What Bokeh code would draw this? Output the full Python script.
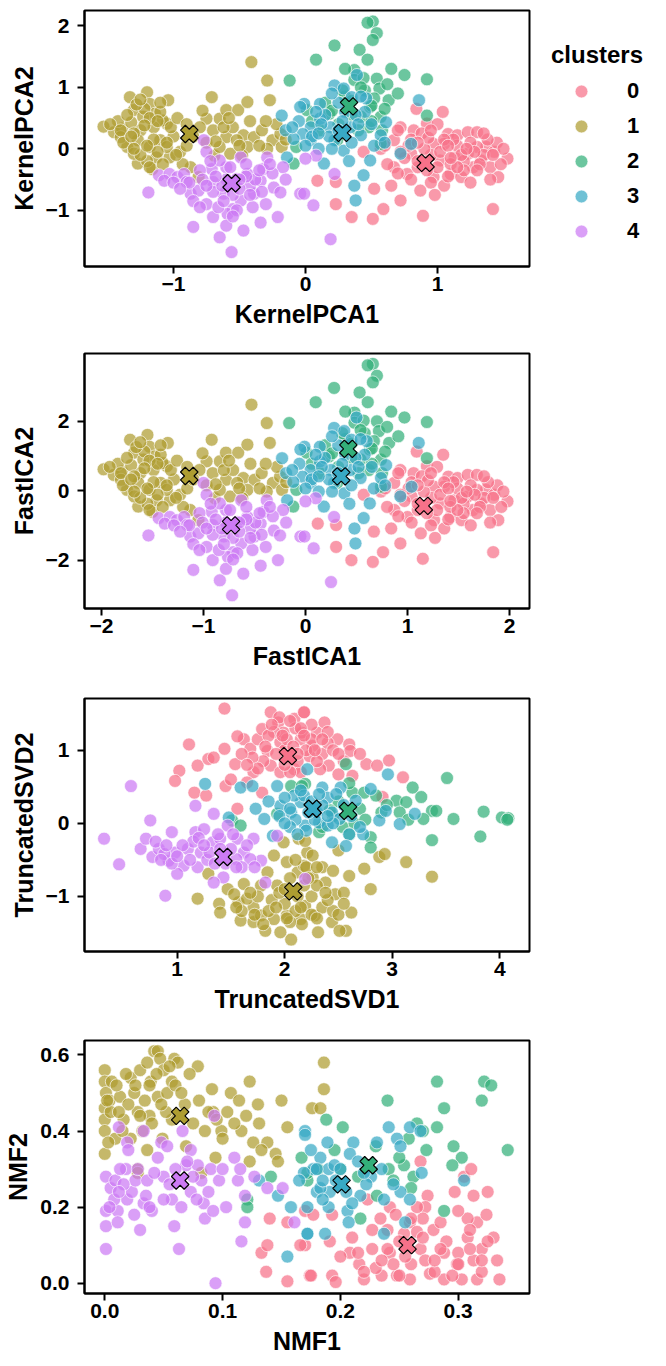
import numpy as np
from bokeh.plotting import figure
from bokeh.layouts import column, row
from bokeh.models import FixedTicker, Legend, LegendItem, Range1d
from bokeh.embed import file_html
from bokeh.resources import INLINE

FONT = "Liberation Sans"
CLUSTERS = ["0", "1", "2", "3", "4"]
COLORS = ["#f77189", "#ae9d31", "#33b07a", "#38a9c5", "#cc7af4"]

# ---------------- KernelPCA ----------------
kpca_x0 = [0.84,1.04,0.72,0.82,0.92,1.08,1.15,1.23,1.30,1.37,1.43,1.53,1.30,1.23,1.13,1.05,0.97,0.67,0.57,0.44,0.67,0.77,0.87,0.97,1.10,1.27,1.46,1.18,0.72,0.59,0.51,0.35,0.89,1.42,0.09,0.23,0.23,0.52,0.80,1.02,1.33,0.85,1.0,1.1,0.95,1.2,1.25,1.4,1.35,0.9,0.75,1.15,0.8,0.95,1.05,1.2,1.45,0.65,0.7,0.6,1.0,0.88,
           0.78,0.85,0.93,1.02,1.08,1.12,1.18,1.28,1.32,1.38,1.5,1.4,0.8,0.62,0.98,1.25,0.7,1.48,
           0.85,0.95,1.05,1.15,1.3,1.42,1.22,1.08,0.92,1.35,1.1,0.72]
kpca_y0 = [0.65,0.60,0.35,0.30,0.41,0.24,0.22,0.27,0.27,0.03,-0.05,-0.16,0.03,-0.08,-0.14,0.08,0.08,0.14,0.00,-0.05,-0.30,-0.41,-0.68,-0.46,-0.41,-0.30,-0.46,-0.46,-0.84,-0.98,-1.14,-1.11,-1.09,-0.98,-0.52,-0.54,-0.90,-0.65,-0.08,-0.19,-0.19,-0.30,-0.3,-0.25,-0.1,-0.2,0.1,-0.3,-0.1,0.0,-0.15,0.05,0.15,-0.55,-0.6,-0.35,0.1,-0.6,-0.4,0.05,0.4,0.25,
           0.05,-0.2,0.18,-0.05,-0.45,0.15,-0.1,-0.05,-0.25,0.15,0.0,-0.5,-0.5,-0.25,-0.75,-0.55,0.3,-0.25,
           0.1,0.3,0.15,-0.3,-0.35,-0.1,0.0,0.05,-0.35,0.25,-0.15,-0.05]
kpca_x1 = [-1.53,-1.45,-1.39,-1.33,-1.30,-1.20,-1.18,-1.14,-1.04,-1.05,-1.25,-1.27,-1.35,-1.18,-1.10,-1.27,-1.16,-1.03,-0.95,-0.87,-1.32,-1.23,-1.08,-1.40,-1.30,-1.13,-1.05,-0.71,-0.65,-0.60,-0.51,-0.44,-0.41,-0.29,-0.27,-0.75,-0.70,-0.60,-0.55,-0.47,-0.39,-0.33,-0.25,-0.19,-0.18,-0.29,-0.44,-0.52,-0.69,-0.57,-0.48,-0.81,-0.80,-0.65,-1.22,-1.15,-1.0,-1.3,-1.12,-1.2,-0.9,-0.85,-0.75,-0.62,-0.35,-0.22,-0.42,-0.93,
           -1.42,-1.38,-1.28,-1.25,-1.18,-1.15,-1.1,-1.08,-1.02,-0.98,-1.2,-1.35,-0.78,-0.68,-0.58,-0.5,-0.3,-0.15,
           -1.48,-1.4,-1.32,-1.22,-1.12,-1.05,-1.3,-1.18,-1.25,-1.1,-0.97,-0.9]
kpca_y1 = [0.36,0.27,0.33,0.84,0.63,0.92,0.73,0.57,0.79,0.41,0.30,0.14,0.03,0.03,0.14,-0.24,-0.33,-0.14,-0.05,-0.30,0.43,0.52,0.46,0.19,-0.08,-0.14,0.03,0.84,0.49,0.63,0.63,0.76,1.41,1.11,0.79,0.49,0.30,0.19,0.35,0.22,0.19,0.30,0.14,0.24,0.03,0.00,0.03,0.14,-0.11,-0.08,-0.11,-0.46,0.35,0.03,0.65,0.35,0.2,0.25,-0.05,-0.2,0.05,0.2,0.1,0.35,0.05,0.4,0.45,-0.25,
           0.45,0.1,0.72,-0.1,0.5,0.15,0.6,-0.25,0.35,-0.1,0.05,0.55,0.62,0.12,0.5,0.05,0.45,0.15,
           0.4,0.3,0.2,0.38,0.45,0.1,0.0,-0.3,0.8,0.75,0.5,0.4]
kpca_x2 = [0.51,0.47,0.54,0.51,0.22,0.08,0.41,0.47,0.65,0.75,0.92,0.37,0.54,0.56,0.63,0.49,0.42,0.57,0.18,0.11,0.01,0.24,0.48,0.92,0.57,0.37,-0.12,-0.09,-0.07,0.3,0.45,0.35,0.25,0.6,0.15,0.05,0.4,0.52,0.7,
           0.28,0.44,0.62,0.35,0.5,0.2,0.58,0.3,0.42,0.5]
kpca_y2 = [2.07,2.05,1.88,1.77,1.68,1.45,1.61,1.45,1.30,1.20,1.13,1.28,1.14,0.98,0.79,0.68,0.52,0.52,0.57,0.30,0.63,0.14,0.35,0.54,0.08,1.12,1.11,-0.24,0.03,0.85,0.95,0.55,0.4,0.65,0.75,0.45,0.3,0.82,0.9,
           0.95,1.15,1.05,0.78,0.45,0.62,0.3,1.3,1.0,0.7]
kpca_x3 = [0.22,0.29,0.39,0.35,0.46,0.11,-0.01,0.04,0.11,0.19,0.34,0.42,0.57,0.61,0.29,0.14,0.44,0.37,0.38,0.86,0.80,0.72,0.49,0.04,0.22,-0.18,-0.15,-0.14,-0.04,-0.02,-0.09,0.15,0.3,0.05,0.2,0.35,0.5,0.1,0.25,0.45,-0.05,
           0.08,0.18,0.28,0.38,0.52,0.0,0.12,0.33,0.6,0.42,0.2,-0.1,0.25,0.1,0.4]
kpca_y3 = [1.03,0.98,1.20,0.84,0.82,0.73,0.73,0.35,0.49,0.35,0.35,0.22,0.22,0.43,-0.03,-0.24,-0.43,-0.60,-0.84,0.79,0.08,-0.08,-0.19,0.14,0.14,0.54,0.30,-0.14,0.68,0.24,0.16,0.55,0.6,0.2,0.0,0.1,0.4,0.0,0.75,0.6,0.45,
           0.6,0.2,0.45,0.55,0.05,0.05,0.4,-0.2,0.1,0.85,0.9,0.35,0.3,0.25,0.4]
kpca_x4 = [-1.19,-1.11,-1.03,-0.97,-0.92,-0.87,-0.85,-0.77,-0.75,-0.70,-0.75,-0.70,-0.65,-0.60,-0.62,-0.56,-0.55,-0.49,-0.47,-0.44,-0.39,-0.34,-0.32,-0.29,-0.24,-0.21,-0.19,-0.04,-0.81,-0.90,-0.71,-0.52,-0.42,-0.34,-0.59,-1.07,-0.65,-0.49,-0.17,-0.01,0.06,0.08,0.22,0.19,0.00,-0.8,-0.6,-0.45,-0.38,-0.7,-0.55,-0.3,-1.0,-0.66,-0.25,
           -0.88,-0.78,-0.72,-0.63,-0.57,-0.5,-0.45,-0.4,-0.33,-0.27,-0.6,-0.52,-0.85,-0.95,-0.15,
           -0.75,-0.68,-0.5,-0.42,-0.62,-0.35,-0.8,-0.55]
kpca_y4 = [-0.71,-0.43,-0.41,-0.46,-0.41,-0.73,-1.27,0.14,-0.05,-0.54,-0.90,-1.11,-1.44,-0.30,-0.73,-1.68,-0.98,-0.14,-1.33,-0.41,-0.73,-1.20,-0.33,-0.14,-0.63,-1.11,-0.71,-0.73,-0.68,-0.54,-0.33,-0.49,-0.60,-0.52,-1.06,-0.52,-0.19,-0.84,-0.30,-0.73,-0.92,-0.11,-0.41,-1.47,-0.16,-0.35,-0.5,-0.25,-0.5,-0.7,-0.75,-0.9,-0.55,-0.95,-0.4,
           -0.55,-0.5,-0.2,-0.6,-0.3,-0.65,-0.45,-0.95,-0.7,-0.25,-1.25,-1.0,-0.85,-0.65,-0.5,
           -0.6,-0.45,-0.5,-0.75,-0.85,-0.35,-0.95,-1.1]
kpca_cx = [0.91, -0.88, 0.33, 0.28, -0.56]
kpca_cy = [-0.23, 0.24, 0.69, 0.26, -0.56]

# ---------------- FastICA ----------------
fica_x0 = [1.09,1.35,0.93,1.06,1.19,1.40,1.49,1.59,1.68,1.77,1.85,1.98,1.68,1.59,1.46,1.36,1.26,0.87,0.74,0.57,0.87,1.00,1.13,1.26,1.42,1.64,1.89,1.53,0.93,0.76,0.66,0.45,1.15,1.84,0.12,0.30,0.30,0.67,1.04,1.32,1.72,1.10,1.29,1.42,1.23,1.55,1.62,1.81,1.75,1.16,0.97,1.49,1.04,1.23,1.36,1.55,1.88,0.84,0.91,0.78,1.29,1.14,
           1.01,1.10,1.20,1.32,1.40,1.45,1.53,1.66,1.71,1.79,1.94,1.81,1.04,0.80,1.27,1.62,0.91,1.92,
           1.10,1.23,1.36,1.49,1.68,1.84,1.58,1.40,1.19,1.75,1.42,0.93]
fica_y0 = [1.13,1.04,0.60,0.51,0.71,0.41,0.37,0.46,0.46,0.03,-0.11,-0.30,0.03,-0.16,-0.27,0.12,0.12,0.23,-0.02,-0.11,-0.55,-0.75,-1.22,-0.84,-0.75,-0.55,-0.84,-0.84,-1.51,-1.76,-2.04,-1.99,-1.95,-1.76,-0.94,-0.98,-1.61,-1.17,-0.16,-0.36,-0.36,-0.55,-0.55,-0.46,-0.20,-0.37,0.16,-0.55,-0.20,-0.02,-0.29,0.07,0.25,-0.99,-1.08,-0.64,0.16,-1.08,-0.73,0.07,0.69,0.42,
           0.07,-0.37,0.30,-0.11,-0.82,0.25,-0.20,-0.11,-0.46,0.25,-0.02,-0.91,-0.91,-0.46,-1.35,-0.99,0.51,-0.46,
           0.16,0.51,0.25,-0.55,-0.64,-0.20,-0.02,0.07,-0.64,0.42,-0.29,-0.11]
fica_x1 = [-1.98,-1.88,-1.80,-1.72,-1.68,-1.55,-1.53,-1.48,-1.35,-1.36,-1.62,-1.64,-1.75,-1.53,-1.42,-1.64,-1.50,-1.33,-1.23,-1.13,-1.71,-1.59,-1.40,-1.81,-1.68,-1.46,-1.36,-0.92,-0.84,-0.78,-0.66,-0.57,-0.53,-0.38,-0.35,-0.97,-0.91,-0.78,-0.71,-0.61,-0.50,-0.43,-0.32,-0.25,-0.23,-0.38,-0.57,-0.67,-0.89,-0.74,-0.62,-1.05,-1.04,-0.84,-1.58,-1.49,-1.29,-1.68,-1.45,-1.55,-1.16,-1.10,-0.97,-0.80,-0.45,-0.28,-0.54,-1.20,
           -1.84,-1.79,-1.66,-1.62,-1.53,-1.49,-1.42,-1.40,-1.32,-1.27,-1.55,-1.75,-1.01,-0.88,-0.75,-0.65,-0.39,-0.19,
           -1.92,-1.81,-1.71,-1.58,-1.45,-1.36,-1.68,-1.53,-1.62,-1.42,-1.26,-1.16]
fica_y1 = [0.62,0.46,0.56,1.47,1.10,1.61,1.27,0.99,1.38,0.71,0.51,0.23,0.03,0.03,0.23,-0.45,-0.60,-0.27,-0.11,-0.55,0.74,0.90,0.80,0.32,-0.16,-0.27,0.03,1.47,0.85,1.10,1.10,1.33,2.48,1.95,1.38,0.85,0.51,0.32,0.60,0.37,0.32,0.51,0.23,0.41,0.03,-0.02,0.03,0.23,-0.21,-0.16,-0.21,-0.84,0.60,0.03,1.13,0.60,0.33,0.42,-0.11,-0.37,0.07,0.33,0.16,0.60,0.07,0.69,0.78,-0.46,
           0.78,0.16,1.26,-0.20,0.87,0.25,1.04,-0.46,0.60,-0.20,0.07,0.95,1.08,0.19,0.87,0.07,0.78,0.25,
           0.69,0.51,0.33,0.65,0.78,0.16,-0.02,-0.55,1.40,1.31,0.87,0.69]
fica_x2 = [0.66,0.61,0.70,0.66,0.28,0.10,0.53,0.61,0.84,0.97,1.19,0.48,0.70,0.72,0.82,0.63,0.54,0.74,0.23,0.14,0.01,0.31,0.62,1.19,0.74,0.48,-0.16,-0.12,-0.09,0.39,0.58,0.45,0.32,0.78,0.19,0.06,0.52,0.67,0.91,
           0.36,0.57,0.80,0.45,0.65,0.26,0.75,0.39,0.54,0.65]
fica_y2 = [3.65,3.61,3.31,3.12,2.96,2.55,2.83,2.55,2.28,2.11,1.98,2.25,2.00,1.72,1.38,1.19,0.90,0.90,0.99,0.51,1.10,0.23,0.60,0.94,0.12,1.96,1.95,-0.45,0.03,1.49,1.66,0.95,0.69,1.13,1.31,0.78,0.51,1.43,1.57,
           1.66,2.02,1.84,1.36,0.78,1.08,0.51,2.28,1.75,1.22]
fica_x3 = [0.28,0.38,0.50,0.45,0.60,0.14,-0.01,0.05,0.14,0.25,0.44,0.54,0.74,0.79,0.38,0.18,0.57,0.48,0.49,1.11,1.04,0.93,0.63,0.05,0.28,-0.23,-0.19,-0.18,-0.05,-0.03,-0.12,0.19,0.39,0.06,0.26,0.45,0.65,0.13,0.32,0.58,-0.06,
           0.10,0.23,0.36,0.49,0.67,0.0,0.16,0.43,0.78,0.54,0.26,-0.13,0.32,0.13,0.52]
fica_y3 = [1.81,1.72,2.11,1.47,1.43,1.27,1.27,0.60,0.85,0.60,0.60,0.37,0.37,0.74,-0.07,-0.45,-0.78,-1.08,-1.51,1.38,0.12,-0.16,-0.36,0.23,0.23,0.94,0.51,-0.27,1.19,0.41,0.26,0.95,1.04,0.33,-0.02,0.16,0.69,-0.02,1.31,1.04,0.78,
           1.04,0.33,0.78,0.95,0.07,0.07,0.69,-0.37,0.16,1.49,1.57,0.60,0.51,0.42,0.69]
fica_x4 = [-1.54,-1.44,-1.33,-1.26,-1.19,-1.13,-1.10,-1.00,-0.97,-0.91,-0.97,-0.91,-0.84,-0.78,-0.80,-0.72,-0.71,-0.63,-0.61,-0.57,-0.50,-0.44,-0.41,-0.38,-0.31,-0.27,-0.25,-0.05,-1.05,-1.16,-0.92,-0.67,-0.54,-0.44,-0.76,-1.38,-0.84,-0.63,-0.22,-0.01,0.08,0.10,0.28,0.25,0.00,-1.04,-0.78,-0.58,-0.49,-0.91,-0.71,-0.39,-1.29,-0.85,-0.32,
           -1.14,-1.01,-0.93,-0.82,-0.74,-0.65,-0.58,-0.52,-0.43,-0.35,-0.78,-0.67,-1.10,-1.23,-0.19,
           -0.97,-0.88,-0.65,-0.54,-0.80,-0.45,-1.04,-0.71]
fica_y4 = [-1.28,-0.78,-0.75,-0.84,-0.75,-1.31,-2.27,0.23,-0.11,-0.98,-1.61,-1.99,-2.57,-0.55,-1.31,-3.00,-1.76,-0.27,-2.38,-0.75,-1.31,-2.15,-0.60,-0.27,-1.14,-1.99,-1.28,-1.31,-1.22,-0.98,-0.60,-0.89,-1.08,-0.94,-1.90,-0.94,-0.36,-1.51,-0.55,-1.31,-1.65,-0.21,-0.75,-2.62,-0.30,-0.64,-0.91,-0.46,-0.91,-1.26,-1.35,-1.61,-0.99,-1.70,-0.73,
           -0.99,-0.91,-0.37,-1.08,-0.55,-1.17,-0.82,-1.70,-1.26,-0.46,-2.24,-1.79,-1.53,-1.17,-0.91,
           -1.08,-0.82,-0.91,-1.35,-1.53,-0.64,-1.70,-1.97]
fica_cx = [1.16, -1.14, 0.42, 0.35, -0.73]
fica_cy = [-0.43, 0.43, 1.21, 0.42, -0.99]

# ---------------- TruncatedSVD ----------------
tsvd_x0 = [1.44,1.11,1.02,0.98,1.19,1.29,1.34,1.44,1.16,1.27,1.45,1.54,1.62,1.68,1.75,1.79,1.87,1.94,2.09,2.18,1.84,1.96,1.87,1.71,1.96,2.09,1.79,1.56,1.65,2.15,1.56,1.99,2.18,2.37,2.49,2.60,2.61,2.26,2.16,2.30,2.23,2.41,2.50,2.63,2.76,2.86,2.97,3.10,2.91,2.33,2.15,1.9,2.0,2.1,2.2,2.25,1.8,2.05,1.7,2.35,1.95,2.12,2.4,
           1.85,1.92,2.02,2.08,2.15,2.25,2.3,2.45,2.55,1.75,1.6,2.0,2.4,2.7,1.5,
           1.88,1.98,2.05,2.18,2.28,2.12,1.82,2.35,1.65,2.5]
tsvd_y0 = [1.57,1.08,0.72,0.58,0.79,0.88,0.90,1.02,0.42,0.38,0.51,0.81,1.15,1.02,1.15,1.29,1.52,1.38,1.43,1.52,0.99,1.11,0.79,0.70,0.70,0.74,0.42,0.20,0.56,1.15,1.19,1.24,1.52,1.38,1.15,1.08,0.99,1.06,1.24,1.24,0.92,0.79,0.67,0.65,0.81,0.79,0.86,0.63,0.36,0.74,0.70,1.25,1.0,1.3,1.0,1.35,0.85,0.7,0.9,0.95,1.45,0.85,1.1,
           1.2,0.95,1.15,1.05,1.3,1.15,0.85,1.0,0.85,0.75,0.95,0.8,1.25,0.95,0.6,
           1.35,1.2,1.4,1.2,1.0,0.95,1.05,1.15,0.8,0.95]
tsvd_x1 = [1.19,1.29,1.39,1.40,1.47,1.57,1.59,1.71,1.71,1.78,1.82,1.90,1.96,2.06,2.02,2.15,2.13,2.21,2.02,2.12,1.84,1.93,1.78,1.62,1.53,1.65,1.99,1.90,2.19,2.26,2.18,2.35,2.50,2.74,2.88,2.93,3.13,3.37,2.80,2.60,2.47,2.38,2.26,2.19,2.28,2.44,2.57,2.62,2.31,2.16,2.51,2.0,2.1,2.25,2.35,1.88,2.05,2.3,1.75,2.2,2.45,
           1.85,1.95,2.05,2.12,2.18,2.25,2.4,2.5,2.55,1.68,1.8,2.3,2.1,1.6,2.45,
           1.92,2.02,2.15,2.3,2.38,1.72,2.0,2.22,2.55,1.55]
tsvd_y1 = [-1.03,-0.69,-1.10,-1.22,-0.90,-1.08,-1.33,-1.15,-1.35,-1.26,-1.47,-1.31,-1.49,-1.59,-1.26,-1.31,-0.21,-0.40,-0.53,-0.67,-0.67,-0.85,-0.85,-0.83,-0.97,-1.03,-0.26,-0.44,-0.24,-0.44,-0.58,-0.60,-0.37,-0.62,-0.46,-0.42,-0.53,-0.73,-0.90,-0.72,-0.97,-0.81,-0.74,-1.13,-1.26,-1.35,-1.47,-1.22,-1.49,-1.38,-1.47,-1.1,-1.2,-1.0,-1.15,-1.05,-0.75,-0.85,-1.0,-0.6,-1.2,
           -1.2,-0.95,-1.35,-1.0,-0.85,-1.25,-1.05,-1.25,-0.95,-0.95,-1.38,-0.6,-0.5,-1.2,-0.65,
           -1.15,-1.3,-1.15,-1.3,-0.95,-1.25,-0.9,-0.75,-1.1,-1.15]
tsvd_x2 = [2.57,2.63,2.74,2.85,3.04,3.13,3.19,3.27,3.37,3.41,3.57,3.51,3.85,3.82,3.37,4.02,4.08,4.07,2.80,2.80,2.32,2.54,3.29,3.07,2.19,1.51,1.59,2.06,1.93,2.16,2.45,2.65,2.7,2.9,2.35,2.6,
           2.5,2.75,2.95,3.15,2.6,2.42]
tsvd_y2 = [0.81,0.42,0.42,0.38,0.31,0.29,0.49,0.36,0.17,0.17,0.06,0.62,0.16,-0.18,-0.23,0.08,0.07,0.05,-0.19,-0.33,-0.12,-0.05,0.06,0.15,0.54,0.04,-0.03,0.51,0.13,0.51,0.1,0.0,0.2,0.15,-0.05,0.55,
           0.3,0.05,0.25,0.05,-0.15,0.18]
tsvd_x3 = [1.26,1.48,1.59,1.70,1.73,1.81,1.93,1.96,2.06,2.15,2.21,1.89,2.09,2.18,2.35,2.52,2.44,2.32,2.19,2.60,2.44,2.57,2.73,2.80,2.88,2.94,3.07,3.21,2.96,2.66,2.40,2.51,2.0,2.1,2.25,2.3,2.4,2.2,1.85,2.05,2.55,
           2.05,2.15,2.28,2.35,2.45,2.62,2.12,1.95,2.48,2.7,2.22,2.32,2.4,2.0]
tsvd_y3 = [0.54,0.08,0.49,0.51,0.20,0.06,0.51,0.24,0.15,0.29,0.74,-0.17,0.38,0.38,0.49,0.49,0.15,0.01,-0.03,-0.15,-0.26,-0.31,-0.15,0.47,0.04,0.17,-0.01,0.13,0.67,0.31,-0.03,0.06,0.35,0.05,0.3,0.15,0.35,-0.1,0.3,-0.05,0.25,
           0.2,0.45,0.05,0.25,0.0,0.1,-0.15,0.1,0.4,-0.05,0.15,0.4,0.1,0.0]
tsvd_x4 = [0.32,0.46,0.57,0.66,0.71,0.75,0.77,0.83,0.89,0.92,0.98,0.95,1.06,1.00,1.17,1.17,1.25,1.34,1.22,1.33,1.40,1.47,1.56,1.62,1.71,1.78,1.68,1.43,1.34,1.82,1.93,1.55,1.19,0.88,2.19,1.1,1.28,1.5,1.6,1.15,0.85,1.38,
           1.05,1.2,1.3,1.45,1.52,1.65,0.8,0.95,1.4,1.72,1.0,1.12,1.25,1.35,0.9,1.55]
tsvd_y4 = [-0.21,-0.56,0.51,-0.35,-0.21,0.04,-0.46,-0.35,-0.99,-0.51,-0.40,-0.12,-0.58,-0.69,-0.12,0.24,-0.08,0.13,-0.40,-0.26,-0.21,-0.03,-0.21,-0.40,-0.21,-0.51,-0.49,-0.74,-0.81,-0.81,-0.17,-0.49,-0.60,-0.42,-0.76,-0.35,-0.5,-0.35,-0.6,-0.25,-0.5,-0.15,
           -0.3,-0.2,-0.4,-0.55,-0.15,-0.3,-0.25,-0.55,-0.35,-0.6,-0.45,-0.5,-0.3,-0.55,-0.3,-0.6]
tsvd_cx = [2.03, 2.08, 2.59, 2.26, 1.43]
tsvd_cy = [0.92, -0.93, 0.17, 0.20, -0.46]

# ---------------- NMF ----------------
nmf_x0 = [0.133,0.138,0.140,0.137,0.155,0.155,0.170,0.170,0.174,0.175,0.193,0.196,0.220,0.235,0.248,0.259,0.276,0.288,0.303,0.316,0.335,0.208,0.216,0.227,0.227,0.242,0.245,0.268,0.272,0.288,0.299,0.313,0.320,0.333,0.308,0.316,0.324,0.330,0.308,0.297,0.305,0.311,0.313,0.325,0.274,0.268,0.242,0.247,0.259,0.272,0.270,0.279,0.254,0.234,0.193,0.177,0.166,0.191,0.223,0.26,0.28,0.30,0.25,0.29,0.32,0.23,0.265,
          0.21,0.24,0.28,0.31,0.30,0.255,0.285,0.22,0.325,0.20,0.265,0.295,
          0.24,0.25,0.27,0.285,0.30,0.31,0.32,0.215,0.26,0.235]
nmf_y0 = [0.08,0.10,0.17,0.03,0.005,0.16,0.19,0.10,0.02,0.02,0.02,0.003,0.01,0.02,0.02,0.01,0.025,0.01,0.01,0.01,0.01,0.08,0.05,0.09,0.14,0.08,0.05,0.09,0.06,0.08,0.05,0.06,0.09,0.06,0.12,0.16,0.18,0.12,0.17,0.24,0.28,0.30,0.23,0.24,0.23,0.32,0.20,0.18,0.16,0.20,0.17,0.14,0.13,0.17,0.18,0.18,0.10,0.11,0.22,0.05,0.03,0.08,0.11,0.11,0.03,0.04,0.135,
          0.12,0.14,0.06,0.14,0.19,0.07,0.16,0.03,0.11,0.07,0.20,0.02,
          0.09,0.02,0.12,0.09,0.05,0.09,0.06,0.08,0.17,0.06]
nmf_x1 = [0.000,0.000,0.001,0.000,0.000,0.000,0.000,0.006,0.004,0.009,0.013,0.016,0.022,0.022,0.025,0.028,0.030,0.032,0.028,0.036,0.039,0.042,0.045,0.047,0.045,0.038,0.036,0.050,0.053,0.057,0.059,0.062,0.049,0.057,0.069,0.079,0.085,0.091,0.094,0.092,0.099,0.104,0.107,0.114,0.116,0.120,0.123,0.126,0.130,0.131,0.138,0.133,0.145,0.150,0.155,0.147,0.123,0.082,0.028,0.186,0.186,0.176,0.183,
          0.005,0.010,0.015,0.020,0.026,0.034,0.040,0.044,0.052,0.060,0.068,0.075,0.088,0.100,0.110,
          0.002,0.003,0.012,0.018,0.030,0.038,0.048,0.055,0.065,0.072,0.080,0.095]
nmf_y1 = [0.56,0.53,0.50,0.46,0.43,0.40,0.34,0.53,0.48,0.38,0.49,0.43,0.38,0.54,0.50,0.45,0.56,0.40,0.30,0.58,0.53,0.61,0.61,0.59,0.49,0.44,0.35,0.56,0.50,0.53,0.59,0.58,0.38,0.43,0.36,0.57,0.40,0.51,0.33,0.45,0.40,0.45,0.50,0.48,0.40,0.44,0.53,0.37,0.47,0.42,0.37,0.35,0.34,0.48,0.41,0.32,0.32,0.29,0.29,0.58,0.51,0.46,0.46,
          0.45,0.52,0.40,0.47,0.52,0.48,0.42,0.55,0.45,0.52,0.47,0.42,0.45,0.38,0.42,
          0.48,0.37,0.45,0.55,0.44,0.52,0.47,0.57,0.50,0.55,0.48,0.43]
nmf_x2 = [0.188,0.202,0.240,0.282,0.288,0.282,0.265,0.258,0.273,0.296,0.303,0.295,0.322,0.328,0.320,0.342,0.241,0.245,0.262,0.254,0.172,0.181,0.200,0.217,0.288,0.231,0.121,0.121,0.167,0.172,0.141,
          0.195,0.215,0.25,0.27,0.23,0.26]
nmf_y2 = [0.43,0.41,0.48,0.53,0.46,0.41,0.42,0.38,0.35,0.36,0.33,0.31,0.53,0.52,0.48,0.35,0.30,0.27,0.28,0.31,0.27,0.30,0.30,0.17,0.19,0.23,0.22,0.20,0.33,0.29,0.28,
          0.35,0.28,0.33,0.40,0.36,0.25]
nmf_x3 = [0.170,0.189,0.211,0.231,0.241,0.259,0.268,0.248,0.251,0.208,0.183,0.177,0.190,0.169,0.180,0.191,0.217,0.226,0.237,0.251,0.259,0.269,0.305,0.172,0.206,0.207,0.187,0.172,0.237,0.255,0.183,0.196,0.170,0.155,0.172,0.131,0.147,0.158,0.165,
          0.175,0.185,0.195,0.205,0.215,0.222,0.19,0.235,0.18,0.21,0.20,0.22,0.185,0.245]
nmf_y3 = [0.40,0.37,0.37,0.37,0.41,0.41,0.40,0.38,0.36,0.34,0.33,0.30,0.30,0.29,0.24,0.24,0.23,0.28,0.22,0.24,0.22,0.29,0.27,0.20,0.19,0.16,0.13,0.13,0.13,0.16,0.25,0.27,0.39,0.07,0.13,0.27,0.23,0.20,0.27,
          0.35,0.27,0.31,0.24,0.32,0.26,0.20,0.30,0.30,0.21,0.30,0.29,0.22,0.26]
nmf_x4 = [0.001,0.001,0.001,0.001,0.005,0.009,0.012,0.011,0.011,0.018,0.019,0.023,0.026,0.030,0.033,0.036,0.040,0.045,0.048,0.050,0.053,0.057,0.059,0.063,0.066,0.069,0.073,0.073,0.079,0.082,0.084,0.085,0.090,0.093,0.097,0.094,0.103,0.110,0.113,0.115,0.119,0.116,0.119,0.127,0.138,0.151,0.161,0.019,0.033,0.013,
          0.008,0.016,0.025,0.035,0.042,0.055,0.065,0.075,0.088,0.100,0.070,0.020,
          0.004,0.012,0.028,0.038,0.050,0.060,0.078,0.092]
nmf_y4 = [0.28,0.19,0.15,0.09,0.25,0.27,0.41,0.19,0.16,0.30,0.22,0.24,0.27,0.14,0.21,0.27,0.19,0.33,0.37,0.28,0.36,0.22,0.15,0.09,0.40,0.31,0.35,0.24,0.31,0.27,0.21,0.17,0.30,0.44,0.27,0.00,0.20,0.33,0.27,0.30,0.23,0.11,0.16,0.28,0.25,0.25,0.16,0.37,0.40,0.30,
          0.22,0.26,0.18,0.23,0.29,0.26,0.20,0.28,0.24,0.30,0.32,0.35,
          0.20,0.24,0.30,0.20,0.22,0.30,0.22,0.19]
nmf_cx = [0.257, 0.064, 0.224, 0.201, 0.064]
nmf_cy = [0.10, 0.44, 0.31, 0.26, 0.27]

# tick values and labels
kpca_xticks, kpca_xlabels = [-1, 0, 1], ["\u22121", "0", "1"]
kpca_yticks, kpca_ylabels = [-1, 0, 1, 2], ["\u22121", "0", "1", "2"]
fica_xticks, fica_xlabels = [-2, -1, 0, 1, 2], ["\u22122", "\u22121", "0", "1", "2"]
fica_yticks, fica_ylabels = [-2, 0, 2], ["\u22122", "0", "2"]
tsvd_xticks, tsvd_xlabels = [1, 2, 3, 4], ["1", "2", "3", "4"]
tsvd_yticks, tsvd_ylabels = [-1, 0, 1], ["\u22121", "0", "1"]
nmf_xticks, nmf_xlabels = [0.0, 0.1, 0.2, 0.3], ["0.0", "0.1", "0.2", "0.3"]
nmf_yticks, nmf_ylabels = [0.0, 0.2, 0.4, 0.6], ["0.0", "0.2", "0.4", "0.6"]

PLOT_W = 531
LEG_W = 666 - PLOT_W


def style_axis(ax, ticks, labels, lstand, astand):
    ax.ticker = FixedTicker(ticks=ticks)
    ax.major_label_overrides = {t: l for t, l in zip(ticks, labels)}
    ax.axis_line_width = 2
    ax.axis_line_color = "black"
    ax.major_tick_line_width = 2
    ax.major_tick_line_color = "black"
    ax.major_tick_out = 7
    ax.major_tick_in = 0
    ax.minor_tick_line_color = None
    ax.major_label_text_font = FONT
    ax.major_label_text_font_size = "21px"
    ax.major_label_text_font_style = "bold"
    ax.major_label_text_color = "black"
    ax.major_label_standoff = lstand
    ax.axis_label_text_font = FONT
    ax.axis_label_text_font_size = "25px"
    ax.axis_label_text_font_style = "bold"
    ax.axis_label_text_color = "black"
    ax.axis_label_standoff = astand


def add_points(p, xs, ys, cx, cy):
    rends = []
    for k in range(5):
        r = p.scatter(xs[k], ys[k], size=13, marker="circle", fill_color=COLORS[k],
                      fill_alpha=0.72, line_color="white", line_width=0.9, line_alpha=0.72)
        rends.append(r)
    if cx is not None:
        p.scatter(cx, cy, marker="plus", angle=np.pi / 4, size=18,
                  fill_color=COLORS, line_color="black", line_width=1.2)
    return rends


def make_panel(xs, ys, cx, cy, xlabel, ylabel, xr, yr, xt, xl, yt, yl, height, top, bottom):
    p = figure(width=PLOT_W, height=height, x_range=Range1d(*xr), y_range=Range1d(*yr),
               output_backend="svg", toolbar_location=None,
               min_border_left=84, min_border_right=2,
               min_border_top=top, min_border_bottom=bottom,
               x_axis_label=xlabel, y_axis_label=ylabel)
    p.xgrid.visible = False
    p.ygrid.visible = False
    p.outline_line_color = "black"
    p.outline_line_width = 2
    p.outline_line_alpha = 1
    style_axis(p.xaxis[0], xt, xl, 3, 6)
    style_axis(p.yaxis[0], yt, yl, 8, 5)
    add_points(p, xs, ys, cx, cy)
    return p


kpca_xs = [kpca_x0, kpca_x1, kpca_x2, kpca_x3, kpca_x4]
kpca_ys = [kpca_y0, kpca_y1, kpca_y2, kpca_y3, kpca_y4]

p1 = make_panel(kpca_xs, kpca_ys, kpca_cx, kpca_cy, "KernelPCA1", "KernelPCA2",
                (-1.674, 1.697), (-1.914, 2.249),
                kpca_xticks, kpca_xlabels, kpca_yticks, kpca_ylabels,
                343, 10, 77)

# legend panel (to the right of the first plot); its renderers hold the same
# cluster data but its ranges keep them out of view, so only the legend shows
leg = figure(width=LEG_W, height=343, x_range=Range1d(100, 101), y_range=Range1d(100, 101),
             output_backend="svg", toolbar_location=None,
             min_border_left=0, min_border_right=0, min_border_top=0, min_border_bottom=0,
             x_axis_type=None, y_axis_type=None)
leg.xgrid.visible = False
leg.ygrid.visible = False
leg.outline_line_color = None
leg_rends = add_points(leg, kpca_xs, kpca_ys, None, None)
items = [LegendItem(label=CLUSTERS[k], renderers=[leg_rends[k]]) for k in range(5)]
lg = Legend(items=items, location=(20, 19), title="clusters",
            title_text_font=FONT, title_text_font_size="24px", title_text_font_style="bold",
            title_text_color="black", title_standoff=6,
            label_text_font=FONT, label_text_font_size="22px", label_text_font_style="bold",
            label_text_color="black",
            glyph_width=60, glyph_height=32, spacing=3, label_standoff=16,
            padding=0, margin=0, border_line_color=None, background_fill_alpha=0)
leg.add_layout(lg)

p2 = make_panel([fica_x0, fica_x1, fica_x2, fica_x3, fica_x4],
                [fica_y0, fica_y1, fica_y2, fica_y3, fica_y4],
                fica_cx, fica_cy, "FastICA1", "FastICA2",
                (-2.167, 2.196), (-3.38, 3.95),
                fica_xticks, fica_xlabels, fica_yticks, fica_ylabels,
                344, 10, 79)
p3 = make_panel([tsvd_x0, tsvd_x1, tsvd_x2, tsvd_x3, tsvd_x4],
                [tsvd_y0, tsvd_y1, tsvd_y2, tsvd_y3, tsvd_y4],
                tsvd_cx, tsvd_cy, "TruncatedSVD1", "TruncatedSVD2",
                (0.138, 4.277), (-1.753, 1.708),
                tsvd_xticks, tsvd_xlabels, tsvd_yticks, tsvd_ylabels,
                343, 11, 79)
p4 = make_panel([nmf_x0, nmf_x1, nmf_x2, nmf_x3, nmf_x4],
                [nmf_y0, nmf_y1, nmf_y2, nmf_y3, nmf_y4],
                nmf_cx, nmf_cy, "NMF1", "NMF2",
                (-0.0172, 0.3605), (-0.027, 0.638),
                nmf_xticks, nmf_xlabels, nmf_yticks, nmf_ylabels,
                336, 10, 73)

layout = column(row(p1, leg, spacing=0), p2, p3, p4, spacing=0)
open("out.html", "w").write(file_html(layout, INLINE))
